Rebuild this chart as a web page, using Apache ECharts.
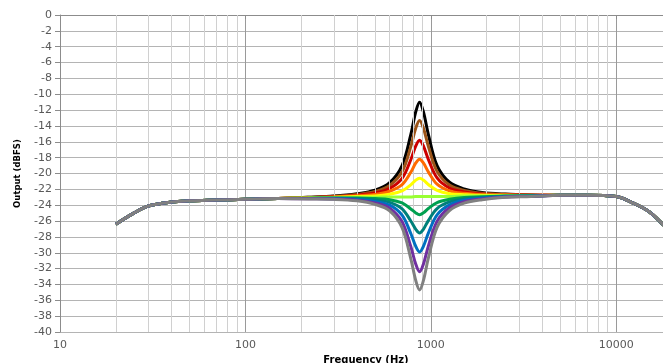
<!DOCTYPE html>
<html>
<head>
<meta charset="utf-8">
<script src="https://cdn.jsdelivr.net/npm/echarts@6/dist/echarts.min.js"></script>
<style>
  html, body { margin: 0; padding: 0; background: #fff; }
  #chart { width: 663px; height: 363px; }
</style>
</head>
<body>
<div id="chart"></div>
<script>
// frequencies (Hz)
const freqLow = [20, 25, 30, 40, 50, 70, 100, 150];
const freqMid = [217, 300, 400, 500, 600, 700, 780, 830, 870, 912, 970, 1081, 1261, 1513, 1891, 2522, 3480];
const freqHigh = [5000, 7000, 10000, 12000, 15000, 18000, 20000];

// shared tails, all curves sit on top of each other here
const tailLow = [-26.4, -25.0, -24.1, -23.6, -23.45, -23.35, -23.25, -23.15];
const tailHigh = [-22.75, -22.75, -22.9, -23.6, -24.8, -26.5, -27.6];

// the part around the 870 Hz peak / dip, one array per curve
const blackMid  = [-23.0, -22.85, -22.55, -22.1, -21.15, -19.0, -15.1, -12.2, -11.0, -12.2, -15.05, -19.0, -21.1, -21.95, -22.4, -22.6, -22.7];
const brownMid  = [-23.01, -22.88, -22.64, -22.28, -21.51, -19.78, -16.61, -14.26, -13.3, -14.26, -16.56, -19.73, -21.46, -22.13, -22.49, -22.63, -22.71];
const redMid    = [-23.04, -22.92, -22.73, -22.47, -21.88, -20.61, -18.26, -16.51, -15.8, -16.51, -18.21, -20.56, -21.83, -22.32, -22.58, -22.67, -22.74];
const orangeMid = [-23.06, -22.97, -22.82, -22.65, -22.24, -21.4, -19.85, -18.67, -18.2, -18.67, -19.8, -21.35, -22.19, -22.5, -22.67, -22.72, -22.76];
const yellowMid = [-23.08, -23.01, -22.91, -22.83, -22.6, -22.19, -21.43, -20.83, -20.6, -20.83, -21.38, -22.14, -22.55, -22.68, -22.76, -22.76, -22.78];
const limeMid   = [-23.1, -23.05, -23.0, -23.0, -22.95, -22.95, -22.95, -22.9, -22.9, -22.9, -22.9, -22.9, -22.9, -22.85, -22.85, -22.8, -22.8];
const greenMid  = [-23.12, -23.09, -23.09, -23.17, -23.3, -23.71, -24.47, -24.97, -25.2, -24.97, -24.42, -23.66, -23.25, -23.02, -22.94, -22.84, -22.82];
const tealMid   = [-23.14, -23.13, -23.18, -23.35, -23.64, -24.47, -25.99, -27.04, -27.5, -27.04, -25.94, -24.42, -23.59, -23.2, -23.02, -22.88, -22.84];
const blueMid   = [-23.16, -23.18, -23.27, -23.53, -24.0, -25.26, -27.57, -29.2, -29.9, -29.2, -27.52, -25.21, -23.95, -23.38, -23.12, -22.93, -22.86];
const purpleMid = [-23.19, -23.22, -23.36, -23.71, -24.38, -26.09, -29.22, -31.45, -32.4, -31.45, -29.17, -26.04, -24.33, -23.56, -23.21, -22.97, -22.89];
const grayMid   = [-23.21, -23.26, -23.45, -23.89, -24.72, -26.84, -30.74, -33.52, -34.7, -33.52, -30.69, -26.79, -24.67, -23.74, -23.3, -23.01, -22.91];

const curves = [
  ['#000000', blackMid],
  ['#9c5418', brownMid],
  ['#cc0000', redMid],
  ['#ff6a00', orangeMid],
  ['#ffff00', yellowMid],
  ['#99ff33', limeMid],
  ['#00a050', greenMid],
  ['#00807a', tealMid],
  ['#0070c0', blueMid],
  ['#7030a0', purpleMid],
  ['#808080', grayMid]
];

// minor vertical grid lines (log axis minor ticks)
const minorFreqs = [20, 30, 40, 50, 60, 70, 80, 90,
  200, 300, 400, 500, 600, 700, 800, 900,
  2000, 3000, 4000, 5000, 6000, 7000, 8000, 9000, 20000];

const freqs = freqLow.concat(freqMid, freqHigh);

const series = [{
  type: 'line',
  data: [],
  silent: true,
  z: 1,
  markLine: {
    silent: true,
    symbol: 'none',
    animation: false,
    label: { show: false },
    lineStyle: { color: '#d0d0d0', type: 'solid', width: 1 },
    data: minorFreqs.map(f => ({ xAxis: f }))
  }
}];

curves.forEach(([color, mid], i) => {
  const vals = tailLow.concat(mid, tailHigh);
  series.push({
    type: 'line',
    data: freqs.map((f, j) => [f, vals[j]]),
    smooth: 0.35,
    showSymbol: false,
    z: 2 + i,
    lineStyle: { color: color, width: 3 },
    itemStyle: { color: color }
  });
});

const chart = echarts.init(document.getElementById('chart'));
chart.setOption({
  animation: false,
  grid: { left: 60, top: 15, right: -9, bottom: 31, containLabel: false, outerBoundsMode: 'none' },
  xAxis: {
    type: 'log',
    logBase: 10,
    min: 10,
    max: 20000,
    name: 'Frequency (Hz)',
    nameLocation: 'middle',
    nameGap: 22,
    nameTextStyle: { fontFamily: 'DejaVu Sans', fontWeight: 'bold', fontSize: 10, color: '#000' },
    axisLine: { lineStyle: { color: '#8c8c8c', width: 1 } },
    axisTick: { show: true, length: 4, lineStyle: { color: '#8c8c8c' } },
    axisLabel: {
      fontFamily: 'DejaVu Sans', fontSize: 11, color: '#595959', margin: 8, showMaxLabel: false,
      formatter: v => String(Math.round(v))
    },
    splitLine: { show: true, lineStyle: { color: '#9a9a9a', width: 1 } }
  },
  yAxis: {
    type: 'value',
    min: -40,
    max: 0,
    interval: 2,
    name: 'Output (dBFS)',
    nameLocation: 'middle',
    nameGap: 38,
    nameTextStyle: { fontFamily: 'DejaVu Sans', fontWeight: 'bold', fontSize: 8.5, color: '#000' },
    axisLine: { show: true, lineStyle: { color: '#8c8c8c', width: 1 } },
    axisTick: { show: true, length: 5, lineStyle: { color: '#8c8c8c' } },
    axisLabel: { fontFamily: 'DejaVu Sans', fontSize: 11, color: '#595959', margin: 8 },
    splitLine: { show: true, lineStyle: { color: '#b4b4b4', width: 1 } }
  },
  series: series
});
</script>
</body>
</html>
